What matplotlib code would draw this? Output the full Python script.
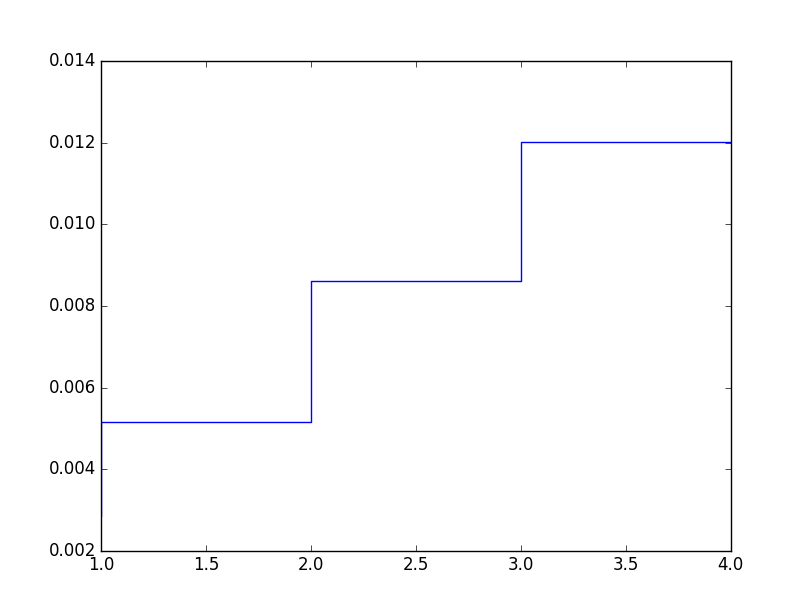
import matplotlib
matplotlib.use('Agg')
import matplotlib.pyplot as plt

plt.style.use('classic')

x = [1.0, 2.0, 3.0, 4.0]
y = [0.00286, 0.00515, 0.00862, 0.01201]

fig = plt.figure(figsize=(8.12, 6.12), dpi=100)
ax = fig.add_subplot(111)
ax.step(x, y, where='pre', color='b')
ax.set_xlim(1.0, 4.0)
ax.set_ylim(0.002, 0.014)

fig.savefig('out.png', dpi=100)
